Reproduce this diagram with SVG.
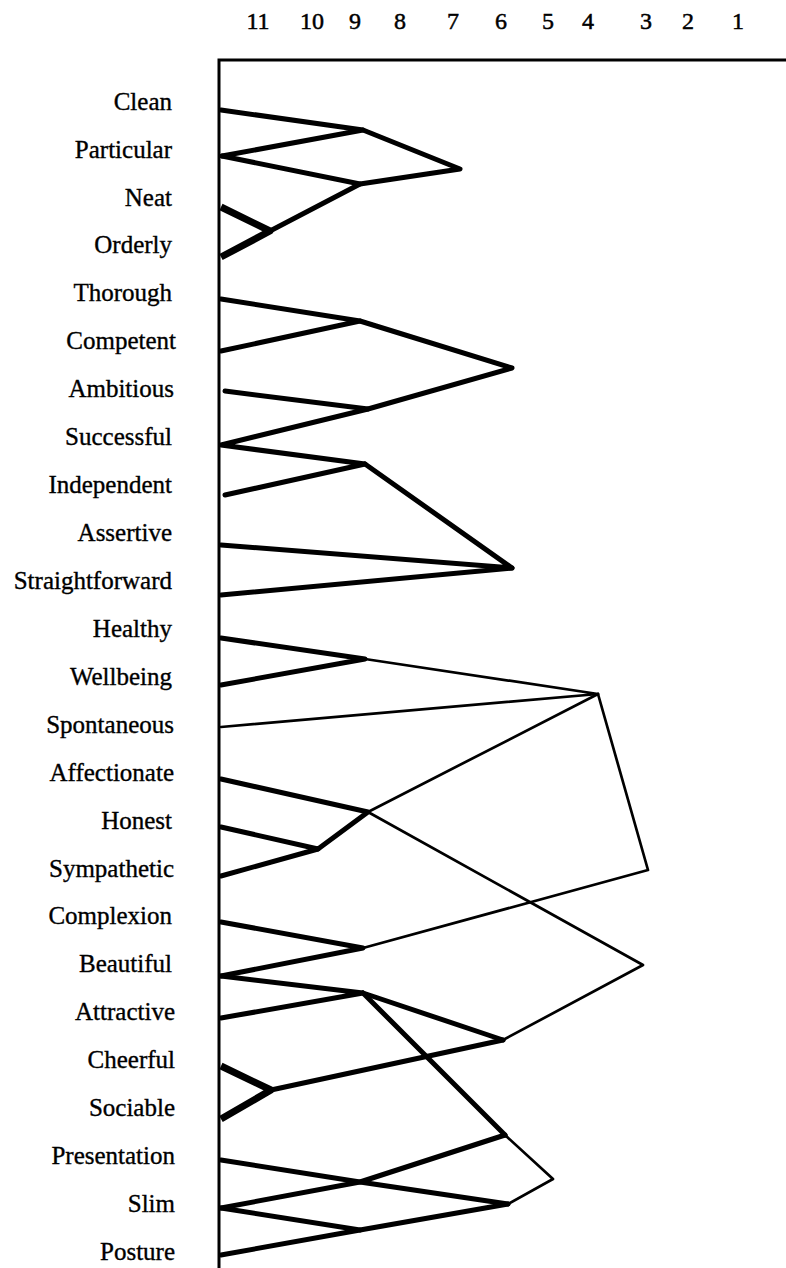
<svg xmlns="http://www.w3.org/2000/svg" width="786" height="1268" viewBox="0 0 786 1268">
<style>
.lbl{font-family:"Liberation Serif","Times New Roman",serif;font-size:25px;fill:#000;stroke:#000;stroke-width:0.35;text-anchor:end}
.num{font-family:"Liberation Serif","Times New Roman",serif;font-size:24px;fill:#000;stroke:#000;stroke-width:0.5;text-anchor:middle}
.ax{stroke:#000;stroke-width:3;fill:none}
.k{stroke:#000;stroke-width:5;fill:none;stroke-linecap:round;stroke-linejoin:round}
.t{stroke:#000;stroke-width:2.7;fill:none;stroke-linecap:round;stroke-linejoin:round}
.v{stroke:#000;stroke-width:7;fill:none;stroke-linecap:butt;stroke-linejoin:round}
</style>
<rect width="786" height="1268" fill="#fff"/>
<g id="scale">
<text class="num" x="258" y="29">11</text>
<text class="num" x="312" y="29">10</text>
<text class="num" x="355" y="29">9</text>
<text class="num" x="400" y="29">8</text>
<text class="num" x="453" y="29">7</text>
<text class="num" x="501" y="29">6</text>
<text class="num" x="548" y="29">5</text>
<text class="num" x="588" y="29">4</text>
<text class="num" x="646" y="29">3</text>
<text class="num" x="688" y="29">2</text>
<text class="num" x="738" y="29">1</text>
</g>
<g id="axis">
<path class="ax" d="M219,1268 V60 H786"/>
</g>
<g id="n-clean"><text class="lbl" x="172" y="110">Clean</text></g>
<g id="n-particular"><text class="lbl" x="172" y="158">Particular</text></g>
<g id="n-neat"><text class="lbl" x="172" y="206">Neat</text></g>
<g id="n-orderly"><text class="lbl" x="172" y="253">Orderly</text></g>
<g id="n-thorough"><text class="lbl" x="172" y="301">Thorough</text></g>
<g id="n-competent"><text class="lbl" x="176" y="349">Competent</text></g>
<g id="n-ambitious"><text class="lbl" x="174" y="397">Ambitious</text></g>
<g id="n-successful"><text class="lbl" x="172" y="445">Successful</text></g>
<g id="n-independent"><text class="lbl" x="172" y="493">Independent</text></g>
<g id="n-assertive"><text class="lbl" x="172" y="541">Assertive</text></g>
<g id="n-straightforward"><text class="lbl" x="172" y="589">Straightforward</text></g>
<g id="n-healthy"><text class="lbl" x="172" y="637">Healthy</text></g>
<g id="n-wellbeing"><text class="lbl" x="172" y="685">Wellbeing</text></g>
<g id="n-spontaneous"><text class="lbl" x="174" y="733">Spontaneous</text></g>
<g id="n-affectionate"><text class="lbl" x="174" y="781">Affectionate</text></g>
<g id="n-honest"><text class="lbl" x="172" y="829">Honest</text></g>
<g id="n-sympathetic"><text class="lbl" x="174" y="877">Sympathetic</text></g>
<g id="n-complexion"><text class="lbl" x="172" y="924">Complexion</text></g>
<g id="n-beautiful"><text class="lbl" x="172" y="972">Beautiful</text></g>
<g id="n-attractive"><text class="lbl" x="175" y="1020">Attractive</text></g>
<g id="n-cheerful"><text class="lbl" x="175" y="1068">Cheerful</text></g>
<g id="n-sociable"><text class="lbl" x="175" y="1116">Sociable</text></g>
<g id="n-presentation"><text class="lbl" x="175" y="1164">Presentation</text></g>
<g id="n-slim"><text class="lbl" x="175" y="1212">Slim</text></g>
<g id="n-posture"><text class="lbl" x="175" y="1260">Posture</text></g>
<g id="connectors">
<!-- cluster 1 -->
<path class="k" d="M221,110 L363,130 L222,156"/>
<path class="k" d="M363,130 L460,169 L360,184 L222,156"/>
<path class="k" d="M360,184 L270,231"/>
<path class="v" d="M221,207 L270,231 L221,257"/>
<!-- cluster 2 -->
<path class="k" d="M221,299 L360,321 L221,351"/>
<path class="k" d="M360,321 L512,368 L368,409 L225,391"/>
<path class="k" d="M368,409 L221,445 L365,464 L225,495"/>
<path class="k" d="M365,464 L512,568 L221,545"/>
<path class="k" d="M512,568 L221,595"/>
<!-- cluster 3 -->
<path class="k" d="M221,638 L365,659 L221,685"/>
<path class="t" d="M365,659 L598,694 L221,727"/>
<path class="t" d="M598,694 L648,870 L363,948"/>
<path class="k" d="M221,779 L368,812 L318,849 L221,827"/>
<path class="k" d="M318,849 L221,876"/>
<path class="t" d="M368,812 L598,694"/>
<path class="t" d="M368,812 L643,965 L503,1040"/>
<!-- cluster 4 -->
<path class="k" d="M221,922 L363,948 L221,976"/>
<path class="k" d="M221,976 L363,993 L221,1018"/>
<path class="k" d="M363,993 L503,1040"/>
<path class="k" d="M363,993 L505,1135"/>
<path class="v" d="M221,1066 L271,1090 L221,1119"/>
<path class="k" d="M271,1090 L503,1040"/>
<path class="t" d="M505,1135 L553,1179 L508,1204"/>
<path class="k" d="M221,1160 L360,1182 L508,1204"/>
<path class="k" d="M221,1208 L360,1182 L505,1135"/>
<path class="k" d="M221,1208 L360,1230 L221,1255"/>
<path class="k" d="M360,1230 L508,1204"/>
</g>
</svg>
